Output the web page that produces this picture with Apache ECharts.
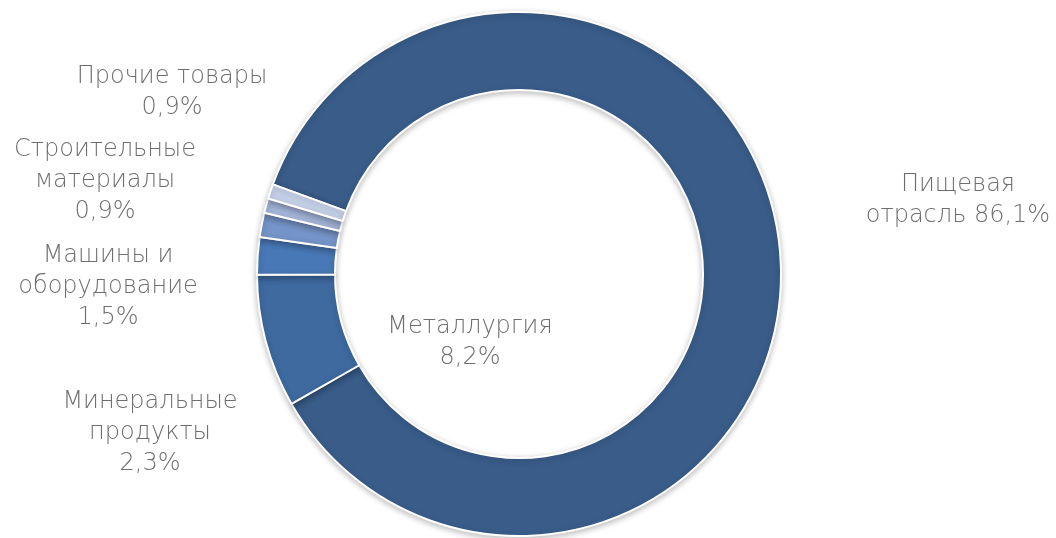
<!DOCTYPE html>
<html>
<head>
<meta charset="utf-8">
<script src="https://cdn.jsdelivr.net/npm/echarts@6/dist/echarts.min.js"></script>
<style>
  html, body { margin: 0; padding: 0; background: #fff; }
  #chart { width: 1056px; height: 538px; }
</style>
</head>
<body>
<div id="chart"></div>
<script>
// категории и доли, %
var categories = ['Пищевая отрасль', 'Металлургия', 'Минеральные продукты', 'Машины и оборудование', 'Строительные материалы', 'Прочие товары'];
var shares = [86.1, 8.2, 2.3, 1.5, 0.9, 0.9];
// подписи как на картинке (с переносами)
var labelTexts = ['Пищевая\nотрасль', 'Металлургия', 'Минеральные\nпродукты', 'Машины и\nоборудование', 'Строительные\nматериалы', 'Прочие товары'];
var labelJoin = [' ', '\n', '\n', '\n', '\n', '\n'];

var colors = ['#395c89', '#3e6aa0', '#4878b5', '#7594c7', '#a3b5d9', '#c5d1e8'];
// где стоят подписи (центр блока)
var labelPos = [[958, 200], [470, 342], [150, 433], [108, 287], [105, 181], [172, 92]];

var chart = echarts.init(document.getElementById('chart'));

var seriesData = categories.map(function (c, i) {
  return { name: c, value: shares[i], itemStyle: { color: colors[i] } };
});

chart.setOption({
  animation: false,
  series: [{
    type: 'pie',
    center: [519, 274],
    radius: [184, 262],
    startAngle: 160,
    clockwise: true,
    avoidLabelOverlap: false,
    itemStyle: {
      borderColor: '#fff',
      borderWidth: 2,
      shadowBlur: 6,
      shadowOffsetY: 2,
      shadowColor: 'rgba(0,0,0,0.25)'
    },
    label: {
      show: true,
      fontFamily: 'DejaVu Sans',
      fontWeight: 200,
      fontSize: 24,
      lineHeight: 31,
      color: '#6e6e6e',
      align: 'center',
      formatter: function (p) {
        var i = p.dataIndex;
        return labelTexts[i] + labelJoin[i] + String(shares[i]).replace('.', ',') + '%';
      }
    },
    labelLine: { show: false },
    labelLayout: function (p) {
      var pos = labelPos[p.dataIndex];
      return { x: pos[0], y: pos[1], align: 'center', verticalAlign: 'middle' };
    },
    data: seriesData
  }]
});
</script>
</body>
</html>
